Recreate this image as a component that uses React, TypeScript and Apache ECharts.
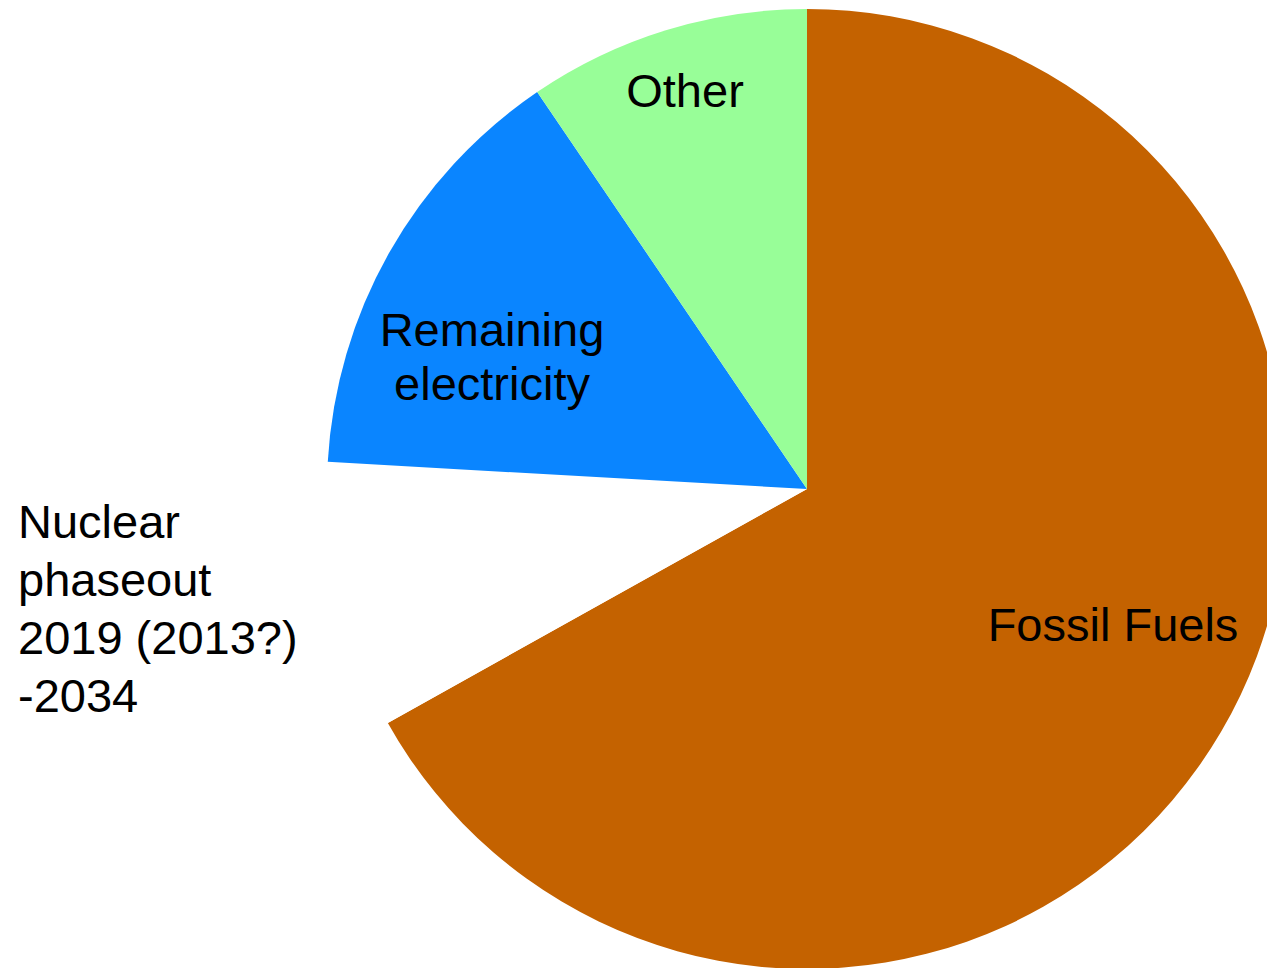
import React, { useEffect, useRef } from "react";
import * as echarts from "echarts";

const categories = ["Fossil Fuels", "Nuclear\nphaseout\n2019 (2013?)\n-2034", "Remaining\nelectricity", "Other"];
const values = [66.9, 9.0, 14.6, 9.5];
const colors = ["#C46200", "#FFFFFF", "#0A85FF", "#98FE98"];

// label anchor positions (chart coordinates) and alignment
const labelPlaces = [
  { x: 1105, y: 616, align: "center", lineHeight: 54 },
  { x: 10, y: 600, align: "left", lineHeight: 58 },
  { x: 484, y: 348, align: "center", lineHeight: 54 },
  { x: 677, y: 82, align: "center", lineHeight: 54 },
];

export default function App() {
  const ref = useRef<HTMLDivElement>(null);
  useEffect(() => {
    if (!ref.current) return;
    const chart = echarts.init(ref.current, undefined, { renderer: "svg" });
    chart.setOption({
      animation: false,
      backgroundColor: "#ffffff",
      series: [
        {
          type: "pie",
          center: [799, 481],
          radius: [0, 480],
          startAngle: 90,
          clockwise: true,
          avoidLabelOverlap: false,
          emphasis: { disabled: true },
          labelLine: { show: false },
          itemStyle: { borderWidth: 0 },
          label: {
            show: true,
            position: "inside",
            formatter: "{b}",
            color: "#000000",
            fontFamily: "Liberation Sans, Arial, sans-serif",
            fontSize: 47,
            lineHeight: 54,
          },
          labelLayout: (params: any) => {
            const p = labelPlaces[params.dataIndex];
            return { x: p.x, y: p.y, align: p.align, verticalAlign: "middle" };
          },
          data: categories.map((name, i) => ({
            name,
            value: values[i],
            itemStyle: { color: colors[i] },
            label: { align: labelPlaces[i].align, lineHeight: labelPlaces[i].lineHeight },
          })),
        },
      ],
    });
    return () => chart.dispose();
  }, []);
  return <div ref={ref} style={{ width: 1267, height: 960 }} />;
}
